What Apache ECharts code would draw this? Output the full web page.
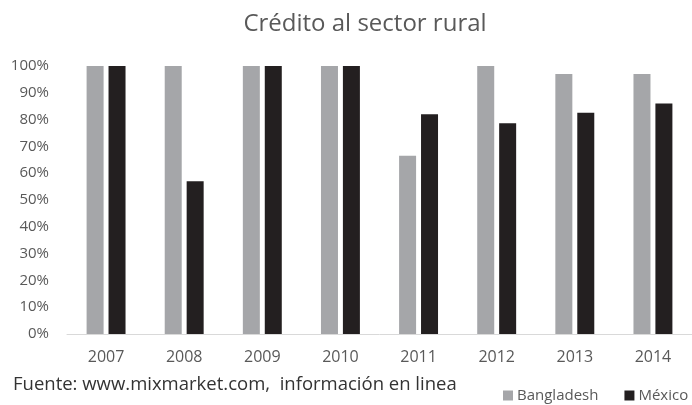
<!DOCTYPE html>
<html>
<head>
	<meta charset="utf-8" />
	<title>Crédito al sector rural</title>
	<script src="https://cdn.jsdelivr.net/npm/echarts@6/dist/echarts.min.js"></script>
	<style>
		html, body { margin: 0; padding: 0; background: #fff; }
		#main { width: 692px; height: 405px; }
	</style>
</head>
<body>
	<div id="main"></div>

	<script type="text/javascript">
		// datos (porcentaje)
		var years = ['2007', '2008', '2009', '2010', '2011', '2012', '2013', '2014'];
		var bangladesh = [100, 100, 100, 100, 66.5, 100, 97, 97];
		var mexico = [100, 57, 100, 100, 82, 78.6, 82.6, 86];
		var yTicks = [0, 10, 20, 30, 40, 50, 60, 70, 80, 90, 100];

		var fontName = '"Open Sans", sans-serif';
		var myChart = echarts.init(document.getElementById('main'));

		var option = {
			animation: false,
			title: {
				text: 'Crédito al sector rural',
				left: 360,
				textAlign: 'center',
				top: 7,
				textStyle: { fontFamily: fontName, fontSize: 24, fontWeight: 'normal', color: '#595959' }
			},
			legend: {
				data: ['Bangladesh', 'México'],
				left: 503,
				top: 388,
				padding: 0,
				itemWidth: 10,
				itemHeight: 10,
				itemGap: 26,
				icon: 'rect',
				textStyle: { fontFamily: fontName, fontSize: 15, color: '#595959', padding: [0, 0, 0, -1] }
			},
			graphic: [{
				type: 'text',
				left: 13,
				top: 375,
				style: {
					text: 'Fuente: www.mixmarket.com,  información en linea',
					font: '18.5px "Open Sans", sans-serif',
					fill: '#333333'
				}
			}],
			grid: { left: 67, right: -9, top: 66, bottom: 71 },
			xAxis: {
				type: 'category',
				data: years,
				axisLine: { lineStyle: { color: '#d9d9d9' } },
				axisTick: { show: false },
				axisLabel: { fontFamily: fontName, fontSize: 16, color: '#595959', margin: 15 }
			},
			yAxis: {
				type: 'value',
				min: yTicks[0],
				max: yTicks[yTicks.length - 1],
				interval: 10,
				splitLine: { show: false },
				axisLine: { show: false },
				axisTick: { show: false },
				axisLabel: {
					fontFamily: fontName, fontSize: 15, color: '#595959', margin: 18,
					formatter: function (v) { return v + '%'; }
				}
			},
			series: [{
				name: 'Bangladesh',
				type: 'bar',
				data: bangladesh,
				barWidth: 17,
				barGap: '29%',
				itemStyle: { color: '#a5a6a9' }
			}, {
				name: 'México',
				type: 'bar',
				data: mexico,
				barWidth: 17,
				itemStyle: { color: '#231f20' }
			}]
		};

		myChart.setOption(option);
	</script>
</body>
</html>
